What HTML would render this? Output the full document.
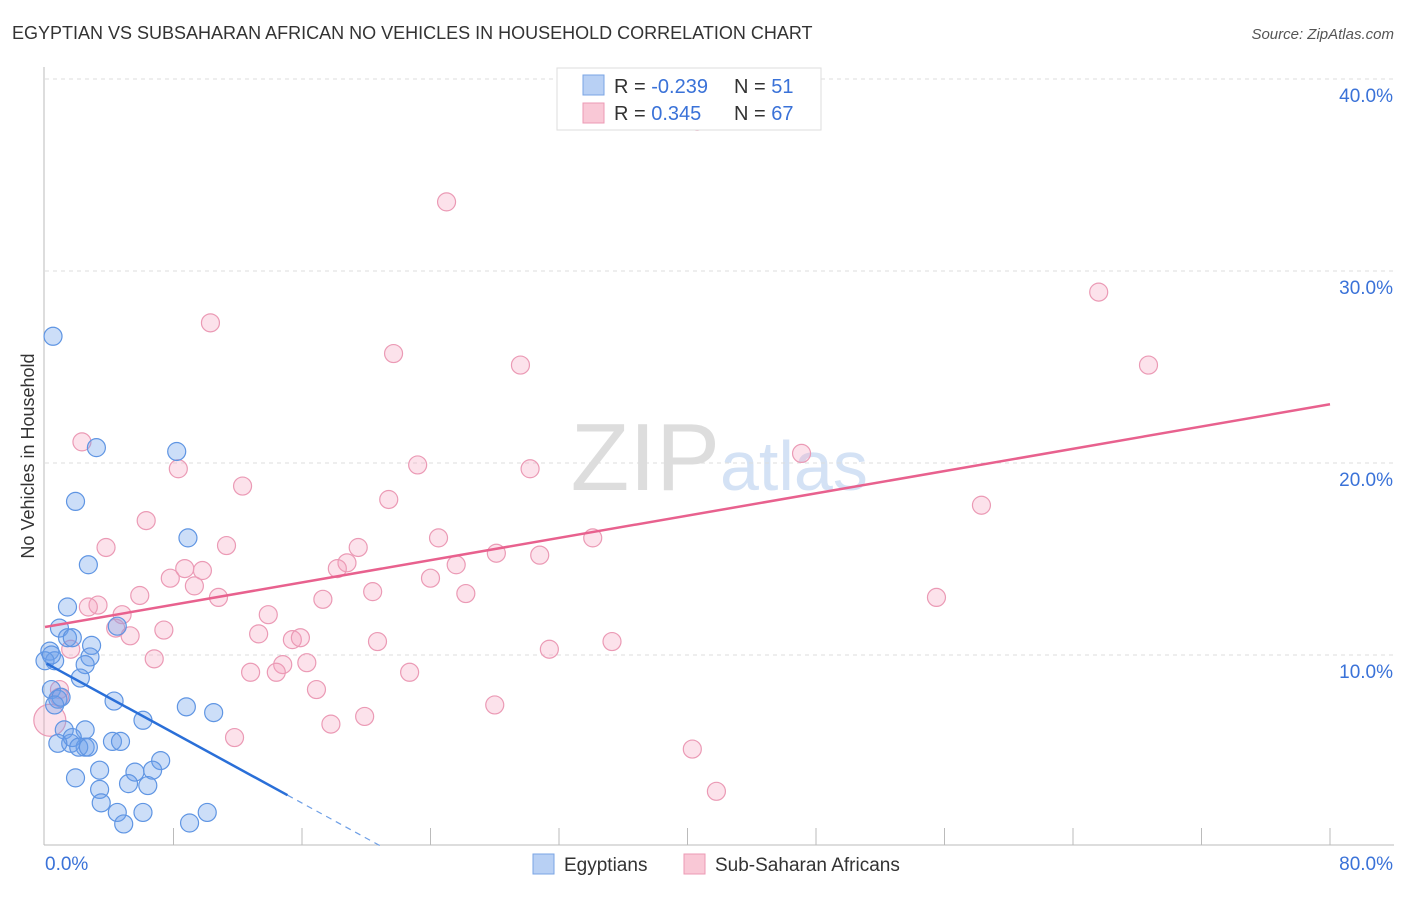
<!DOCTYPE html>
<html><head><meta charset="utf-8"><style>
body{margin:0;background:#fff;font-family:"Liberation Sans",sans-serif;}
svg text{font-family:"Liberation Sans",sans-serif;}
</style></head><body>
<svg width="1406" height="892" xmlns="http://www.w3.org/2000/svg" id="chart">
<text x="12" y="39" font-size="18" fill="#333">EGYPTIAN VS SUBSAHARAN AFRICAN NO VEHICLES IN HOUSEHOLD CORRELATION CHART</text>
<text x="1394" y="39" font-size="15" fill="#555" font-style="italic" text-anchor="end">Source: ZipAtlas.com</text>
<text x="720" y="490" font-size="96" fill="#ddd" text-anchor="end" font-family="Liberation Serif">ZIP</text>
<text x="720" y="490" font-size="70" fill="#d4e2f5">atlas</text>
<g id="grid"></g>
<g id="axes"></g>
<g id="pts"></g>
<g id="lines"></g>
<text transform="translate(34,456) rotate(-90)" font-size="18" fill="#333" text-anchor="middle">No Vehicles in Household</text>
<g>
<rect x="557" y="68" width="264" height="62" fill="#fff" stroke="#ddd"/>
<rect x="583" y="75" width="21" height="20" fill="#b8d0f4" stroke="#7aa4e4"/>
<rect x="583" y="103" width="21" height="20" fill="#f9c8d6" stroke="#ec9ab4"/>
<text x="614" y="93" font-size="20" fill="#333">R = <tspan fill="#3a72d8">-0.239</tspan></text>
<text x="734" y="93" font-size="20" fill="#333">N = <tspan fill="#3a72d8"> 51</tspan></text>
<text x="614" y="120" font-size="20" fill="#333">R = <tspan fill="#3a72d8"> 0.345</tspan></text>
<text x="734" y="120" font-size="20" fill="#333">N = <tspan fill="#3a72d8">67</tspan></text>
</g>
<g>
<rect x="533" y="854" width="21" height="20" fill="#b8d0f4" stroke="#7aa4e4"/>
<text x="564" y="871" font-size="19" fill="#333">Egyptians</text>
<rect x="684" y="854" width="21" height="20" fill="#f9c8d6" stroke="#ec9ab4"/>
<text x="715" y="871" font-size="19" fill="#333">Sub-Saharan Africans</text>
</g>
</svg>
<script>
const yTicks=[10,20,30,40];
const yTickLabels=["10.0%","20.0%","30.0%","40.0%"];
const xTickLabels=["0.0%","80.0%"];
const blueX=[0.5,3.2,8.2,1.9,8.9,2.7,1.4,0.9,1.4,1.7,2.9,4.5,0.3,0.6,2.8,2.5,2.2,0.4,0.8,1.0,0.6,4.3,8.8,10.5,6.1,1.2,2.5,1.6,1.7,2.5,2.1,2.7,4.2,4.7,7.2,3.4,1.9,5.6,6.7,5.2,6.4,3.4,3.5,4.5,6.1,4.9,9.0,10.1,0.8,0.0,0.4];
const blueY=[26.6,20.8,20.6,18.0,16.1,14.7,12.5,11.4,10.9,10.9,10.5,11.5,10.2,9.7,9.9,9.5,8.8,8.2,7.7,7.8,7.4,7.6,7.3,7.0,6.6,6.1,6.1,5.4,5.7,5.2,5.2,5.2,5.5,5.5,4.5,4.0,3.6,3.9,4.0,3.3,3.2,3.0,2.3,1.8,1.8,1.2,1.25,1.8,5.4,9.7,10.0];
const pinkX=[40.6,25.0,65.6,10.3,21.7,29.6,68.7,2.3,8.3,23.2,30.2,47.1,12.3,21.4,58.3,6.3,24.5,34.1,3.8,11.3,19.5,28.1,30.8,18.8,18.2,25.6,8.7,9.8,7.8,24.0,9.3,20.4,26.2,17.3,5.9,10.8,55.5,3.3,2.7,4.8,13.9,4.4,7.4,5.3,13.3,15.4,15.9,20.7,35.3,31.4,1.6,6.8,16.3,14.8,12.8,14.4,22.7,16.9,0.9,0.9,28.0,17.8,19.9,11.8,40.3,41.8,0.3];
const pinkY=[37.8,33.6,28.9,27.3,25.7,25.1,25.1,21.1,19.7,19.9,19.7,20.5,18.8,18.1,17.8,17.0,16.1,16.1,15.6,15.7,15.6,15.3,15.2,14.8,14.5,14.7,14.5,14.4,14.0,14.0,13.6,13.3,13.2,12.9,13.1,13.0,13.0,12.6,12.5,12.1,12.1,11.4,11.3,11.0,11.1,10.8,10.9,10.7,10.7,10.3,10.3,9.8,9.6,9.5,9.1,9.1,9.1,8.2,8.2,7.8,7.4,6.4,6.8,5.7,5.1,2.9,6.6];
const blueTrend=[9.6,-0.457]; // intercept, slope
const pinkTrend=[11.46,0.145];
const NS="http://www.w3.org/2000/svg";
const sx=v=>45+v*16.0625, sy=v=>847-v*19.2;
function mk(t,a,p){const e=document.createElementNS(NS,t);for(const k in a)e.setAttribute(k,a[k]);p.appendChild(e);return e;}
const grid=document.getElementById('grid'),axes=document.getElementById('axes'),pts=document.getElementById('pts'),lines=document.getElementById('lines');
yTicks.forEach((t,i)=>{
 const l=mk('line',{x1:45,x2:1394,y1:sy(t),y2:sy(t),stroke:'#ddd','stroke-dasharray':'4,4'},grid);
 
 
 const tx=mk('text',{x:1393,y:sy(t)+23,'font-size':19,fill:'#3a72d8','text-anchor':'end'},grid);
 tx.textContent=yTickLabels[i];
 
 
});
const ya=mk('line',{x1:44,x2:44,y1:67,y2:845,stroke:'#bbb'},axes);


const xa=mk('line',{x1:44,x2:1394,y1:845,y2:845,stroke:'#bbb'},axes);


for(let i=1;i<=10;i++){
 const t=mk('line',{x1:sx(i*8),x2:sx(i*8),y1:828,y2:845,stroke:'#bbb'},axes);
 
 
}
[[0,'start',45],[80,'end',1393]].forEach((d,i)=>{
 const t=mk('text',{x:d[2],y:870,'font-size':19,fill:'#3a72d8','text-anchor':d[1]},axes);
 t.textContent=xTickLabels[i];
 
 
});
pinkX.forEach((x,i)=>{
 const c=mk('circle',{cx:sx(x),cy:sy(pinkY[i]),r:i==pinkX.length-1?16:9,fill:'rgba(244,160,188,0.3)',stroke:'#eb9ab5','stroke-width':1.2},pts);
 
 
});
blueX.forEach((x,i)=>{
 const c=mk('circle',{cx:sx(x),cy:sy(blueY[i]),r:9,fill:'rgba(110,160,235,0.35)',stroke:'#5f95e3','stroke-width':1.2},pts);
 
 
});
const pl=mk('line',{x1:sx(0),y1:sy(pinkTrend[0]),x2:sx(80),y2:sy(pinkTrend[0]+pinkTrend[1]*80),stroke:'#e8618e','stroke-width':2.5},lines);


const bx1=15.1,bx2=-blueTrend[0]/blueTrend[1];
const bl=mk('line',{x1:sx(0.1),y1:sy(blueTrend[0]+blueTrend[1]*0.1),x2:sx(bx1),y2:sy(blueTrend[0]+blueTrend[1]*bx1),stroke:'#2a6fd8','stroke-width':2.5},lines);


const bd=mk('line',{x1:sx(bx1),y1:sy(blueTrend[0]+blueTrend[1]*bx1),x2:sx(bx2),y2:sy(0),stroke:'#6e9fe6','stroke-width':1.2,'stroke-dasharray':'6,5'},lines);


</script>
</body></html>
